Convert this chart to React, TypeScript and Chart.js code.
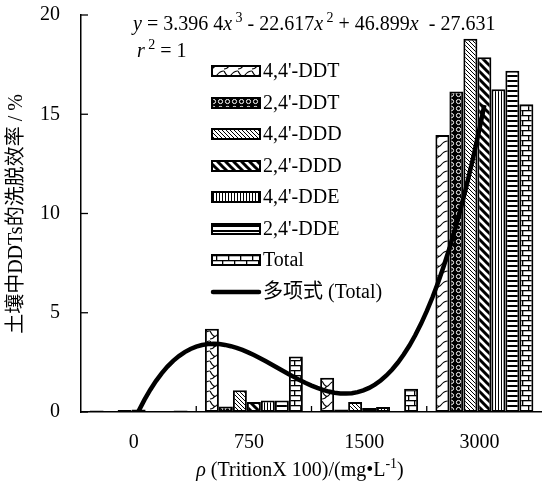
import React, { useEffect, useRef } from "react";
import { Chart, registerables } from "chart.js";
Chart.register(...registerables);

const categories = ["0", "750", "1500", "3000"];
const seriesNames = ["4,4'-DDT", "2,4'-DDT", "4,4'-DDD", "2,4'-DDD", "4,4'-DDE", "2,4'-DDE", "Total"];
const ddt44 = [0.08, 4.2, 1.73, 13.96];
const ddt24 = [0, 0.28, 0.12, 16.15];
const ddd44 = [0.1, 1.09, 0.5, 18.8];
const ddd24 = [0.12, 0.5, 0.2, 17.87];
const dde44 = [0, 0.58, 0.25, 16.26];
const dde24 = [0, 0.58, 0.05, 17.19];
const total = [0.08, 2.8, 1.17, 15.5];
const seriesValues = [ddt44, ddt24, ddd44, ddd24, dde44, dde24, total];
const patternKinds = ["wave", "dots", "thinDiag", "thickDiag", "vert", "horiz", "brick"];
// Trendline (Total) coefficients from the chart: x^3, x^2, x, const ; x = category number 1..4
const trendCoefficients = [3.3964, -22.617, 46.899, -27.631];
const trendLabel = "多项式 (Total)";
const yTickValues = [0, 5, 10, 15, 20];
const yTitle = "土壤中DDTs的洗脱效率 / %";

const SERIF = '"Liberation Serif", "Times New Roman", "Noto Sans CJK SC", serif';

function makePattern(kind: string): CanvasPattern | string {
  const c = document.createElement("canvas");
  const g = c.getContext("2d");
  if (!g) return "#fff";
  const setSize = (w: number, h: number) => {
    c.width = w;
    c.height = h;
    g.fillStyle = "#fff";
    g.fillRect(0, 0, w, h);
    g.strokeStyle = "#000";
    g.fillStyle = "#000";
  };
  if (kind === "wave") {
    setSize(14, 10);
    g.lineWidth = 1.2;
    g.beginPath();
    g.moveTo(0, 1);
    g.quadraticCurveTo(4, 9, 7, 5);
    g.quadraticCurveTo(10, 1, 14, 1);
    g.stroke();
    g.beginPath();
    g.moveTo(0, 9);
    g.quadraticCurveTo(3, 9, 5, 6);
    g.stroke();
  } else if (kind === "dots") {
    setSize(7, 7);
    g.fillRect(0, 0, 7, 7);
    g.strokeStyle = "#fff";
    g.lineWidth = 1;
    g.beginPath();
    g.arc(3.5, 3.5, 2.1, 0, Math.PI * 2);
    g.stroke();
  } else if (kind === "thinDiag") {
    setSize(4, 4);
    g.lineWidth = 1;
    g.beginPath();
    g.moveTo(-1, -1);
    g.lineTo(5, 5);
    g.stroke();
  } else if (kind === "thickDiag") {
    setSize(8, 8);
    g.lineWidth = 3;
    g.beginPath();
    g.moveTo(-2, -2);
    g.lineTo(10, 10);
    g.moveTo(-2, 6);
    g.lineTo(2, 10);
    g.moveTo(6, -2);
    g.lineTo(10, 2);
    g.stroke();
  } else if (kind === "vert") {
    setSize(3, 1);
    g.fillRect(0, 0, 1, 1);
  } else if (kind === "horiz") {
    setSize(1, 5);
    g.fillRect(0, 0, 1, 2);
  } else if (kind === "brick") {
    setSize(12, 10);
    g.fillRect(0, 0, 12, 1.3);
    g.fillRect(0, 5, 12, 1.3);
    g.fillRect(6, 0, 1.3, 5);
    g.fillRect(0, 5, 1.3, 5);
  }
  return g.createPattern(c, "repeat") || "#fff";
}

type Seg = { t: string; italic?: boolean; sup?: boolean };

function drawSegs(ctx: CanvasRenderingContext2D, segs: Seg[], x: number, y: number, size: number) {
  let cx = x;
  for (const s of segs) {
    const fs = s.sup ? Math.round(size * 0.68) : size;
    ctx.font = `${s.italic ? "italic " : ""}${fs}px ${SERIF}`;
    ctx.fillText(s.t, cx, s.sup ? y - size * 0.42 : y);
    cx += ctx.measureText(s.t).width;
  }
  return cx - x;
}

function measureSegs(ctx: CanvasRenderingContext2D, segs: Seg[], size: number) {
  let w = 0;
  for (const s of segs) {
    const fs = s.sup ? Math.round(size * 0.68) : size;
    ctx.font = `${s.italic ? "italic " : ""}${fs}px ${SERIF}`;
    w += ctx.measureText(s.t).width;
  }
  return w;
}

export default function App() {
  const ref = useRef<HTMLCanvasElement | null>(null);

  useEffect(() => {
    if (!ref.current) return;
    const patterns = patternKinds.map((k) => makePattern(k));

    // trend curve evaluated on the category index axis (index = category number - 1)
    const trendPoints: { x: number; y: number }[] = [];
    for (let i = 0; i <= 60; i++) {
      const n = 1 + (3 * i) / 60;
      const [a, b, c, d] = trendCoefficients;
      trendPoints.push({ x: n - 1, y: a * n * n * n + b * n * n + c * n + d });
    }

    const decor = {
      id: "decor",
      afterDraw(chart: any) {
        const ctx: CanvasRenderingContext2D = chart.ctx;
        const xs = chart.scales.x;
        const ys = chart.scales.y;
        const area = chart.chartArea;
        ctx.save();
        ctx.strokeStyle = "#000";
        ctx.fillStyle = "#000";
        ctx.lineWidth = 1.3;
        for (const v of yTickValues) {
          const py = ys.getPixelForValue(v);
          ctx.beginPath();
          ctx.moveTo(area.left, py);
          ctx.lineTo(area.left + 7, py);
          ctx.stroke();
        }
        for (let i = 1; i < categories.length; i++) {
          const px = (xs.getPixelForValue(i - 1) + xs.getPixelForValue(i)) / 2;
          ctx.beginPath();
          ctx.moveTo(px, area.bottom);
          ctx.lineTo(px, area.bottom - 6);
          ctx.stroke();
        }
        ctx.textBaseline = "alphabetic";
        ctx.textAlign = "left";
        drawSegs(
          ctx,
          [
            { t: "y", italic: true },
            { t: " = 3.396 4" },
            { t: "x", italic: true },
            { t: " 3", sup: true },
            { t: " - 22.617" },
            { t: "x", italic: true },
            { t: " 2", sup: true },
            { t: " + 46.899" },
            { t: "x", italic: true },
            { t: "  - 27.631" },
          ],
          133,
          30,
          20
        );
        drawSegs(
          ctx,
          [
            { t: "r", italic: true },
            { t: " 2", sup: true },
            { t: " = 1" },
          ],
          137,
          57,
          20
        );
        const xt: Seg[] = [
          { t: "ρ", italic: true },
          { t: " (TritionX 100)/(mg•L" },
          { t: "-1", sup: true },
          { t: ")" },
        ];
        const w = measureSegs(ctx, xt, 20);
        drawSegs(ctx, xt, 300 - w / 2, 476, 20);
        ctx.save();
        ctx.translate(17, 214);
        ctx.rotate(-Math.PI / 2);
        ctx.textAlign = "center";
        ctx.textBaseline = "middle";
        ctx.font = `20px ${SERIF}`;
        ctx.fillText(yTitle, 0, 0);
        ctx.restore();
        const ly = [71, 103, 134, 166, 197, 229, 260, 292];
        ctx.font = `20px ${SERIF}`;
        ctx.textBaseline = "middle";
        for (let i = 0; i < seriesNames.length; i++) {
          const y = ly[i];
          ctx.fillStyle = patterns[i] as any;
          ctx.fillRect(212, y - 5, 48, 10);
          ctx.lineWidth = 2;
          ctx.strokeStyle = "#000";
          ctx.strokeRect(212, y - 5, 48, 10);
          ctx.fillStyle = "#000";
          ctx.fillText(seriesNames[i], 263, y + 1);
        }
        const yl = ly[7];
        ctx.lineWidth = 4.5;
        ctx.lineCap = "round";
        ctx.beginPath();
        ctx.moveTo(213, yl);
        ctx.lineTo(259, yl);
        ctx.stroke();
        ctx.fillText(trendLabel, 263, yl + 1);
        ctx.restore();
      },
    };

    const datasets: any[] = seriesNames.map((name, i) => ({
      type: "bar",
      label: name,
      data: seriesValues[i],
      backgroundColor: patterns[i],
      borderColor: "#000",
      borderWidth: 2,
      borderSkipped: false,
      categoryPercentage: 0.85,
      barPercentage: 1,
      order: 1,
    }));
    datasets.push({
      type: "line",
      label: trendLabel,
      data: trendPoints,
      parsing: false,
      borderColor: "#000",
      borderWidth: 4.5,
      pointRadius: 0,
      pointHoverRadius: 0,
      pointBorderWidth: 0,
      fill: false,
      tension: 0,
      order: 0,
    });

    const chart = new Chart(ref.current, {
      type: "bar",
      data: { labels: categories, datasets },
      options: {
        animation: false,
        responsive: true,
        maintainAspectRatio: false,
        layout: { padding: { top: 15, left: 0, right: 0, bottom: 0 }, autoPadding: false },
        plugins: { legend: { display: false }, tooltip: { enabled: false } },
        scales: {
          x: {
            type: "category",
            grid: { display: false, drawTicks: false },
            border: { display: true, color: "#000", width: 1.5 },
            ticks: {
              color: "#000",
              font: { family: SERIF, size: 20 },
              padding: 19,
              labelOffset: -5,
              maxRotation: 0,
            },
            afterFit: (s: any) => {
              s.height = 77;
            },
          },
          y: {
            min: 0,
            max: 20,
            grid: { display: false, drawTicks: false },
            border: { display: true, color: "#000", width: 1.5 },
            ticks: {
              stepSize: 5,
              color: "#000",
              font: { family: SERIF, size: 20 },
              padding: 21,
            },
            afterFit: (s: any) => {
              s.width = 81;
              s.paddingTop = 0;
              s.paddingBottom = 0;
            },
          },
        },
      },
      plugins: [decor],
    } as any);
    return () => chart.destroy();
  }, []);

  return (
    <div style={{ position: "fixed", left: 0, top: 0, width: 542, height: 489, background: "#fff" }}>
      <canvas ref={ref} />
    </div>
  );
}
